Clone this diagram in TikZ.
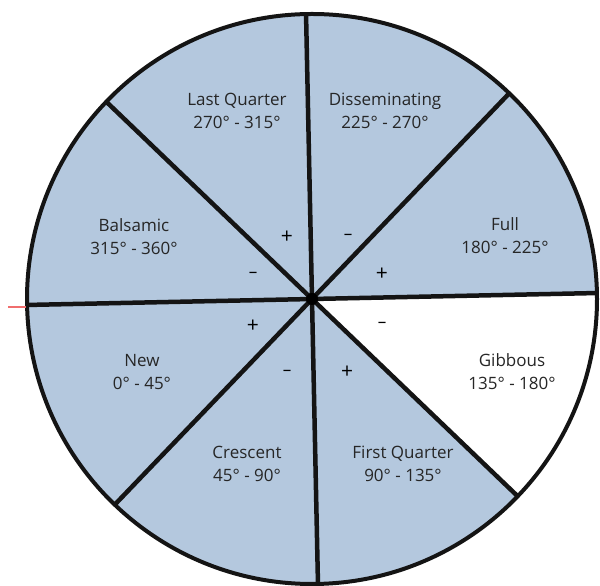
\documentclass[tikz,border=0pt]{standalone}
\usepackage{fontspec}
\setmainfont{Open Sans}
\definecolor{moonblue}{RGB}{180,200,222}
\definecolor{tickred}{RGB}{240,110,110}
\begin{document}
\begin{tikzpicture}[x=1pt,y=1pt,
  lbl/.style={align=center, font=\fontsize{17}{23}\selectfont, text=black!85, inner sep=0pt},
  sgn/.style={font=\fontsize{21}{21}\selectfont, text=black, inner sep=0pt},
  mns/.style={font=\fontsize{17}{17}\selectfont, text=black, inner sep=0pt},
  spoke/.style={line width=4.5pt, draw=black!92},
  rim/.style={line width=4pt, draw=black!92}]
\useasboundingbox (0,0) rectangle (600,586);
\coordinate (c) at (312,287);
\def\rot{1.2}
\fill[moonblue] (c) circle (285);
\fill[white] (c) -- ++(\rot-45:285) arc[start angle=\rot-45, end angle=\rot, radius=285] -- cycle;
\foreach \i in {0,...,7} {
  \path (c) ++(\rot+45*\i:285) coordinate (e\i);
  \draw[spoke] (c) -- (e\i);
}
\draw[rim] (c) circle (285);
\fill[black] (c) circle (6);
\coordinate (t1) at (8,279);
\coordinate (t2) at (26,279);
\draw[tickred, line width=1.4pt] (t1) -- (t2);
% labels
\node[lbl] (lq) at (237,475) {Last Quarter\\270° - 315°};
\node[lbl] (dis) at (385,475) {Disseminating\\225° - 270°};
\node[lbl] (full) at (505,350) {Full\\180° - 225°};
\node[lbl] (gib) at (512,214) {Gibbous\\135° - 180°};
\node[lbl] (fq) at (403,122) {First Quarter\\90° - 135°};
\node[lbl] (cre) at (247,122) {Crescent\\45° - 90°};
\node[lbl] (new) at (142,214) {New\\0° - 45°};
\node[lbl] (bal) at (134,349) {Balsamic\\315° - 360°};
% signs
\node[sgn] (s1) at (287,349) {+};
\node[mns] (s2) at (348,349) {–};
\node[sgn] (s3) at (382,312) {+};
\node[mns] (s4) at (253,311) {–};
\node[sgn] (s5) at (253,260) {+};
\node[mns] (s6) at (382,261) {–};
\node[mns] (s7) at (287,213) {–};
\node[sgn] (s8) at (347,214) {+};
\end{tikzpicture}
\end{document}
